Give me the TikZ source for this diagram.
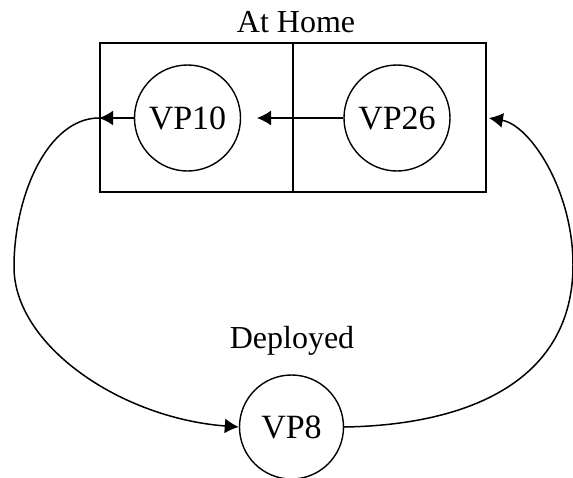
\documentclass[tikz,border=0pt]{standalone}
\usepackage{fontspec}
\setmainfont{Liberation Serif}
\usetikzlibrary{arrows.meta}
\begin{document}
\begin{tikzpicture}[x=1pt,y=-1pt,
  vpnode/.style={draw,circle,line width=1.4pt,minimum size=106pt,inner sep=0pt,font=\fontsize{34}{36}\selectfont},
  caption/.style={anchor=base,inner sep=0pt,font=\fontsize{32}{34}\selectfont},
  arr/.style={line width=1.5pt,-{Latex[length=14pt,width=15pt]}},
  boxstyle/.style={draw,line width=1.8pt,minimum width=386pt,minimum height=149pt,inner sep=0pt}]
\useasboundingbox (0,0) rectangle (573,477);
\node[boxstyle] (home) at (293,117.5) {};
\draw[line width=1.4pt] (home.north) -- (home.south);
\node[caption] (athome) at (296,32) {At Home};
\node[vpnode] (vp10) at (187.5,118) {VP10};
\node[vpnode] (vp26) at (397,118) {VP26};
\node[caption] (deployed) at (292,348) {Deployed};
\node[vpnode,minimum size=104pt] (vp8) at (291.5,427) {VP8};
\coordinate (mid) at (257,118);
\draw[arr] (vp10.west) -- (vp10.west -| home.west);
\draw[arr] (vp26.west) -- (mid);
\draw[arr] (vp10.west -| home.west) .. controls (48,118) and (14,195) .. (14,267)
  .. controls (14,345) and (120,418) .. (vp8.west);
\draw[arr] (vp8.east) .. controls (470,425) and (573,380) .. (573,265)
  .. controls (573,190) and (530,125) .. ([xshift=2pt]vp26.east -| home.east);
\end{tikzpicture}
\end{document}
